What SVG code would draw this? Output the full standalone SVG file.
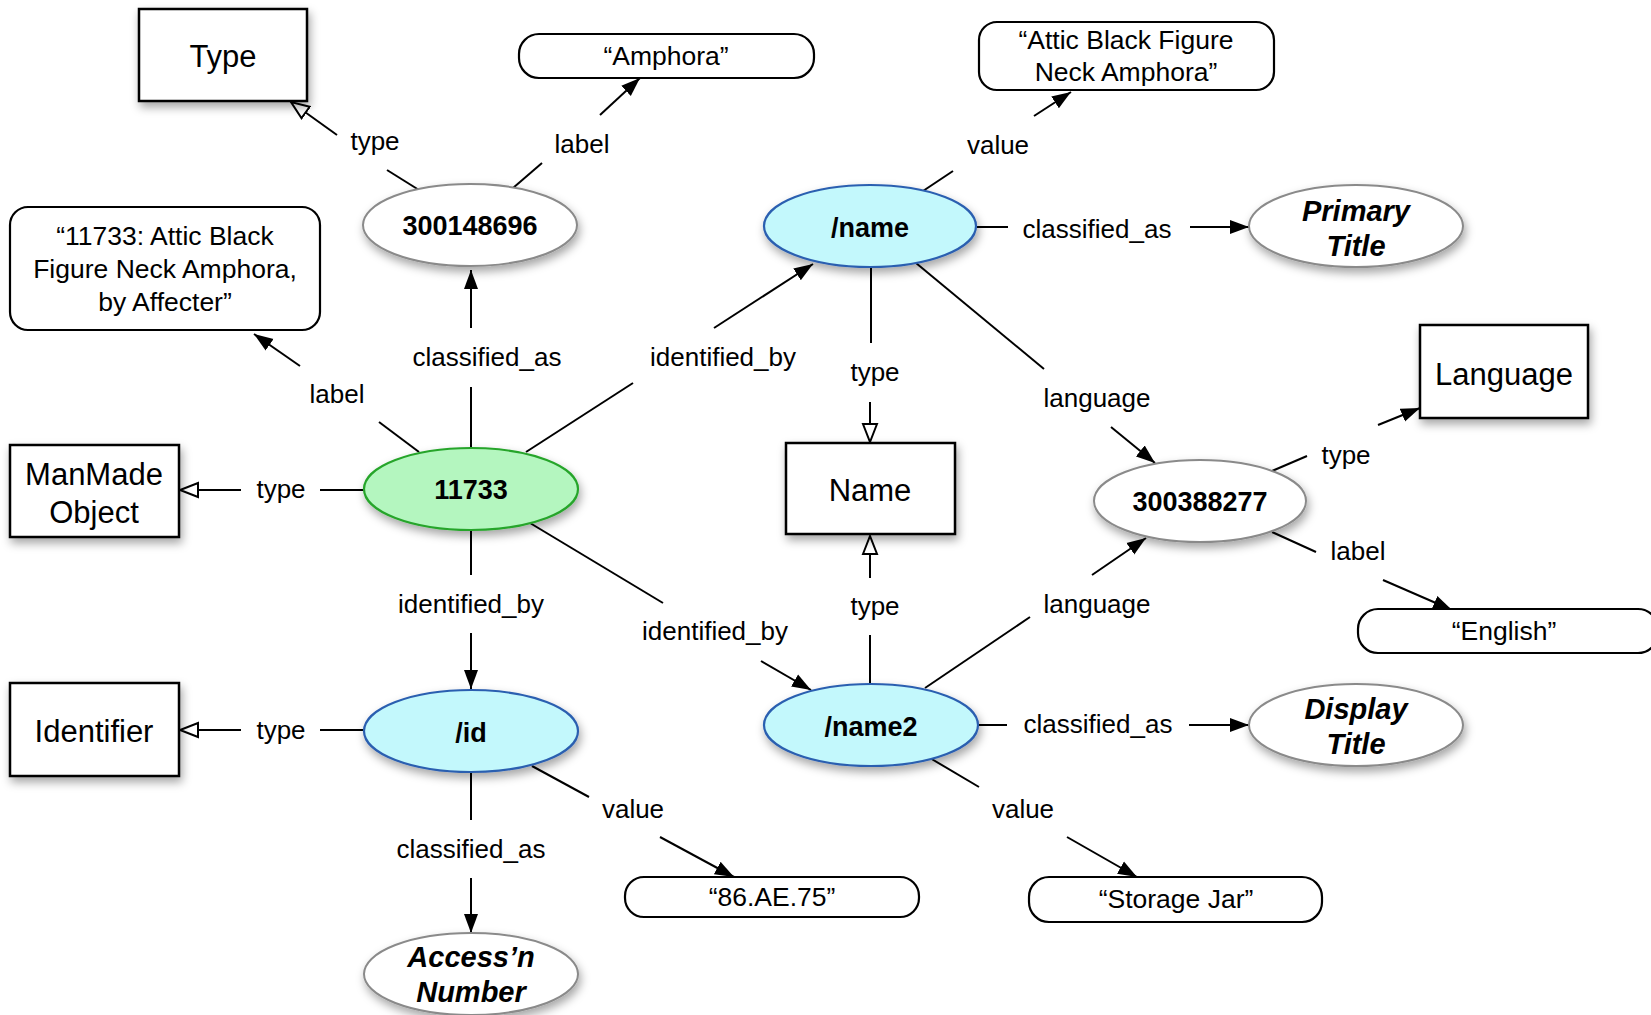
<svg xmlns="http://www.w3.org/2000/svg" width="1651" height="1015" viewBox="0 0 1651 1015">
<style>
text{font-family:"Liberation Sans",Arial,sans-serif;fill:#000;text-anchor:middle;dominant-baseline:central}
.lbl{font-size:26px}
.box{fill:#fff;stroke:#000;stroke-width:2.5;filter:url(#sh)}
.boxt{font-size:31px}
.pill{fill:#fff;stroke:#000;stroke-width:2.2}
.pillt{font-size:26.5px}
.ew{fill:#fff;stroke:#8a8a8a;stroke-width:2;filter:url(#sh)}
.ec{fill:#c3f8fc;stroke:#2b5fb0;stroke-width:2.2;filter:url(#sh)}
.eg{fill:#b4f6bf;stroke:#26a52b;stroke-width:2.2;filter:url(#sh)}
.bt{font-size:27px;font-weight:bold}
.bi{font-size:29px;font-weight:bold;font-style:italic}
.c line{stroke:#000;stroke-width:2}
.a{marker-end:url(#ah)}
.o{marker-end:url(#oh)}
</style>
<defs>
<filter id="sh" x="-30%" y="-30%" width="160%" height="170%">
<feDropShadow dx="2" dy="5" stdDeviation="5" flood-color="#000" flood-opacity="0.35"/>
</filter>
<marker id="ah" markerUnits="userSpaceOnUse" markerWidth="20" markerHeight="16" refX="19" refY="8" orient="auto">
<path d="M0,1 L19,8 L0,15 z" fill="#000"/>
</marker>
<marker id="oh" markerUnits="userSpaceOnUse" markerWidth="22" markerHeight="18" refX="19" refY="9" orient="auto">
<path d="M1,2 L19,9 L1,16 z" fill="#fff" stroke="#000" stroke-width="2"/>
</marker>
</defs>
<rect width="1651" height="1015" fill="#fff"/>

<g id="connectors" class="c">
<line x1="419" y1="190" x2="387" y2="170"/><line class="o" x1="337" y1="135" x2="291" y2="102"/>
<line x1="513" y1="188" x2="542" y2="163"/><line class="a" x1="600" y1="115" x2="640" y2="78"/>
<line x1="923" y1="191" x2="953" y2="171"/><line class="a" x1="1034" y1="116" x2="1071" y2="92"/>
<line x1="977" y1="227" x2="1008" y2="227"/><line class="a" x1="1190" y1="227" x2="1249" y2="227"/>
<line x1="471" y1="447" x2="471" y2="387"/><line class="a" x1="471" y1="328" x2="471" y2="270"/>
<line x1="419" y1="452" x2="379" y2="422"/><line class="a" x1="300" y1="366" x2="254" y2="334"/>
<line x1="526" y1="452" x2="633" y2="383"/><line class="a" x1="714" y1="328" x2="813" y2="264"/>
<line x1="364" y1="490" x2="320" y2="490"/><line class="o" x1="241" y1="490" x2="180" y2="490"/>
<line x1="471" y1="530" x2="471" y2="575"/><line class="a" x1="471" y1="633" x2="471" y2="689"/>
<line x1="530" y1="523" x2="663" y2="603"/><line class="a" x1="761" y1="661" x2="811" y2="690"/>
<line x1="871" y1="267" x2="871" y2="343"/><line class="o" x1="870" y1="402" x2="870" y2="442"/>
<line x1="916" y1="263" x2="1044" y2="369"/><line class="a" x1="1111" y1="427" x2="1155" y2="463"/>
<line x1="870" y1="684" x2="870" y2="635"/><line class="o" x1="870" y1="578" x2="870" y2="536"/>
<line x1="925" y1="688" x2="1030" y2="617"/><line class="a" x1="1092" y1="575" x2="1146" y2="538"/>
<line x1="1272" y1="471" x2="1307" y2="456"/><line class="a" x1="1378" y1="425" x2="1420" y2="408"/>
<line x1="1272" y1="532" x2="1316" y2="552"/><line class="a" x1="1383" y1="580" x2="1452" y2="610"/>
<line x1="979" y1="725" x2="1007" y2="725"/><line class="a" x1="1189" y1="725" x2="1249" y2="725"/>
<line x1="930" y1="758" x2="979" y2="787"/><line class="a" x1="1067" y1="837" x2="1137" y2="877"/>
<line x1="364" y1="730" x2="320" y2="730"/><line class="o" x1="241" y1="730" x2="180" y2="730"/>
<line x1="532" y1="766" x2="589" y2="797"/><line class="a" x1="660" y1="837" x2="734" y2="877"/>
<line x1="471" y1="773" x2="471" y2="820"/><line class="a" x1="471" y1="878" x2="471" y2="933"/>
</g>

<g id="edge-labels">
<text class="lbl" x="375" y="141">type</text>
<text class="lbl" x="582" y="144">label</text>
<text class="lbl" x="998" y="145">value</text>
<text class="lbl" x="1097" y="229">classified_as</text>
<text class="lbl" x="487" y="357">classified_as</text>
<text class="lbl" x="337" y="394">label</text>
<text class="lbl" x="723" y="357">identified_by</text>
<text class="lbl" x="281" y="489">type</text>
<text class="lbl" x="471" y="604">identified_by</text>
<text class="lbl" x="715" y="631">identified_by</text>
<text class="lbl" x="875" y="372">type</text>
<text class="lbl" x="1097" y="398">language</text>
<text class="lbl" x="875" y="606">type</text>
<text class="lbl" x="1097" y="604">language</text>
<text class="lbl" x="1346" y="455">type</text>
<text class="lbl" x="1358" y="551">label</text>
<text class="lbl" x="1098" y="724">classified_as</text>
<text class="lbl" x="1023" y="809">value</text>
<text class="lbl" x="281" y="730">type</text>
<text class="lbl" x="633" y="809">value</text>
<text class="lbl" x="471" y="849">classified_as</text>
</g>

<g id="node-type"><rect class="box" x="139" y="9" width="168" height="92"/><text class="boxt" x="223" y="56">Type</text></g>
<g id="node-amphora"><rect class="pill" x="519" y="34" width="295" height="44" rx="20"/><text class="pillt" x="666" y="56">“Amphora”</text></g>
<g id="node-attic"><rect class="pill" x="979" y="22" width="295" height="68" rx="18"/><text class="pillt" x="1126" y="40">“Attic Black Figure</text><text class="pillt" x="1126" y="72">Neck Amphora”</text></g>
<g id="node-300148696"><ellipse class="ew" cx="470" cy="225" rx="107" ry="41"/><text class="bt" x="470" y="226">300148696</text></g>
<g id="node-name"><ellipse class="ec" cx="870" cy="226" rx="106" ry="41"/><text class="bt" x="870" y="228">/name</text></g>
<g id="node-primary-title"><ellipse class="ew" cx="1356" cy="226" rx="107" ry="41"/><text class="bi" x="1356" y="211">Primary</text><text class="bi" x="1356" y="246">Title</text></g>
<g id="node-label-11733"><rect class="pill" x="10" y="207" width="310" height="123" rx="18"/><text class="pillt" x="165" y="236">“11733: Attic Black</text><text class="pillt" x="165" y="269">Figure Neck Amphora,</text><text class="pillt" x="165" y="302">by Affecter”</text></g>
<g id="node-language"><rect class="box" x="1420" y="325" width="168" height="93"/><text class="boxt" x="1504" y="374">Language</text></g>
<g id="node-manmade"><rect class="box" x="10" y="445" width="169" height="92"/><text class="boxt" x="94" y="474">ManMade</text><text class="boxt" x="94" y="512">Object</text></g>
<g id="node-11733"><ellipse class="eg" cx="471" cy="489" rx="107" ry="41"/><text class="bt" x="471" y="490">11733</text></g>
<g id="node-name-type"><rect class="box" x="786" y="443" width="169" height="91"/><text class="boxt" x="870" y="490">Name</text></g>
<g id="node-300388277"><ellipse class="ew" cx="1200" cy="501" rx="106" ry="41"/><text class="bt" x="1200" y="502">300388277</text></g>
<g id="node-english"><rect class="pill" x="1358" y="609" width="300" height="44" rx="20"/><text class="pillt" x="1504" y="631">“English”</text></g>
<g id="node-identifier"><rect class="box" x="10" y="683" width="169" height="93"/><text class="boxt" x="94" y="731">Identifier</text></g>
<g id="node-id"><ellipse class="ec" cx="471" cy="731" rx="107" ry="41"/><text class="bt" x="471" y="733">/id</text></g>
<g id="node-name2"><ellipse class="ec" cx="871" cy="725" rx="107" ry="41"/><text class="bt" x="871" y="727">/name2</text></g>
<g id="node-display-title"><ellipse class="ew" cx="1356" cy="725" rx="107" ry="41"/><text class="bi" x="1356" y="709">Display</text><text class="bi" x="1356" y="744">Title</text></g>
<g id="node-86ae75"><rect class="pill" x="625" y="877" width="294" height="40" rx="19"/><text class="pillt" x="772" y="897">“86.AE.75”</text></g>
<g id="node-storage-jar"><rect class="pill" x="1029" y="877" width="293" height="45" rx="20"/><text class="pillt" x="1176" y="899">“Storage Jar”</text></g>
<g id="node-accessn"><ellipse class="ew" cx="471" cy="974" rx="107" ry="41"/><text class="bi" x="471" y="957">Access’n</text><text class="bi" x="471" y="992">Number</text></g>
</svg>
